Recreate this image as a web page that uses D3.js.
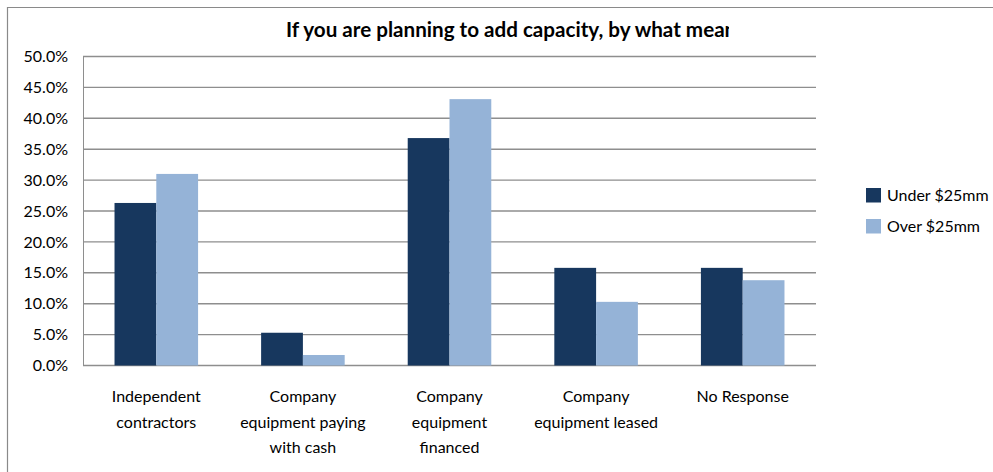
<!DOCTYPE html>
<html>
<head>
<meta charset="utf-8">
<script src="https://cdn.jsdelivr.net/npm/d3@7"></script>
<style>
  html, body { margin: 0; padding: 0; background: #fff; }
  svg { display: block; }
  text { font-family: Lato, "Open Sans", sans-serif; fill: #000; }
</style>
</head>
<body>
<svg id="chart" width="993" height="472"></svg>
<script>
// Survey answers, share of respondents (%)
const categories = [
  "Independent contractors",
  "Company equipment paying with cash",
  "Company equipment financed",
  "Company equipment leased",
  "No Response"
];
// How each category label breaks over lines under the axis
const categoryLines = [
  ["Independent", "contractors"],
  ["Company", "equipment paying", "with cash"],
  ["Company", "equipment", "financed"],
  ["Company", "equipment leased"],
  ["No Response"]
];
const seriesNames = ["Under $25mm", "Over $25mm"];
const under25 = [26.3, 5.3, 36.8, 15.8, 15.8];
const over25 = [31.0, 1.7, 43.1, 10.3, 13.8];
const yTicks = [0, 5, 10, 15, 20, 25, 30, 35, 40, 45, 50];
const titleText = "If you are planning to add capacity, by what means?";

const colors = ["#17375E", "#95B3D7"];
const seriesValues = [under25, over25];

const svg = d3.select("#chart");

// outer frame (top and left edges visible)
svg.append("path")
  .attr("d", "M7.5,472 V7.5 H993")
  .attr("fill", "none")
  .attr("stroke", "#8a8a8a")
  .attr("stroke-width", 1.2);

// title, clipped by the width of its box
const titleX = 286, titleClipRight = 729;
svg.append("clipPath").attr("id", "titleClip")
  .append("rect").attr("x", 8).attr("y", 8).attr("width", titleClipRight - 8).attr("height", 40);
const title = svg.append("text")
  .attr("clip-path", "url(#titleClip)")
  .attr("x", titleX)
  .attr("y", 37)
  .attr("font-family", "'Open Sans', Lato, sans-serif")
  .attr("font-weight", "bold")
  .attr("font-size", 17)
  .text(titleText);
// size the title so the text up to "mea" fills the box
const probe = svg.append("text")
  .attr("font-family", "'Open Sans', Lato, sans-serif")
  .attr("font-weight", "bold")
  .attr("font-size", 17)
  .text(titleText.slice(0, titleText.indexOf("means") + 3));
const probeW = probe.node().getComputedTextLength();
probe.remove();
title.attr("font-size", 17 * (titleClipRight - 4 - titleX) / probeW);

const plot = { left: 83, right: 816, top: 56.5, bottom: 365.5 };

const y = d3.scaleLinear().domain([0, 50]).range([plot.bottom, plot.top]);
const x = d3.scaleBand()
  .domain(categories)
  .range([plot.left, plot.right])
  .paddingInner(0.43)
  .paddingOuter(0.215);
const xs = d3.scaleBand().domain(d3.range(seriesNames.length)).range([0, x.bandwidth()]);

// horizontal gridlines
svg.append("g")
  .selectAll("line")
  .data(yTicks)
  .join("line")
  .attr("x1", plot.left)
  .attr("x2", plot.right)
  .attr("y1", d => y(d))
  .attr("y2", d => y(d))
  .attr("stroke", "#8e8e8e")
  .attr("stroke-width", 1.4);

// left edge of plot area
svg.append("line")
  .attr("x1", plot.left + 0.5).attr("x2", plot.left + 0.5)
  .attr("y1", y(50)).attr("y2", y(0))
  .attr("stroke", "#8e8e8e")
  .attr("stroke-width", 1);

// y axis labels
const yAxis = d3.axisLeft(y)
  .tickValues(yTicks)
  .tickFormat(d => d3.format(".1f")(d) + "%")
  .tickSize(0)
  .tickPadding(15);
const yg = svg.append("g").attr("transform", `translate(${plot.left},0)`).call(yAxis);
yg.select(".domain").remove();
yg.selectAll("text")
  .attr("font-family", "Lato, sans-serif")
  .attr("font-size", 16)
  .attr("fill", "#000");

// bars
seriesValues.forEach((vals, si) => {
  svg.append("g")
    .selectAll("rect")
    .data(vals)
    .join("rect")
    .attr("x", (d, i) => x(categories[i]) + xs(si))
    .attr("width", xs.bandwidth())
    .attr("y", d => y(d))
    .attr("height", d => y(0) - y(d))
    .attr("fill", colors[si]);
});

// category labels
const xl = svg.append("g");
categories.forEach((c, i) => {
  const t = xl.append("text")
    .attr("x", x(c) + x.bandwidth() / 2)
    .attr("y", 402)
    .attr("text-anchor", "middle")
    .attr("font-size", 16);
  categoryLines[i].forEach((line, li) => {
    t.append("tspan")
      .attr("x", x(c) + x.bandwidth() / 2)
      .attr("dy", li === 0 ? 0 : 25.5)
      .text(line);
  });
});

// legend
const legend = svg.append("g");
seriesNames.forEach((name, i) => {
  const ly = 188 + i * 31;
  legend.append("rect")
    .attr("x", 866).attr("y", ly)
    .attr("width", 15).attr("height", 14.5)
    .attr("fill", colors[i]);
  legend.append("text")
    .attr("x", 887).attr("y", ly + 7.5)
    .attr("dy", "0.36em")
    .attr("font-size", 16)
    .text(name);
});
</script>
</body>
</html>
